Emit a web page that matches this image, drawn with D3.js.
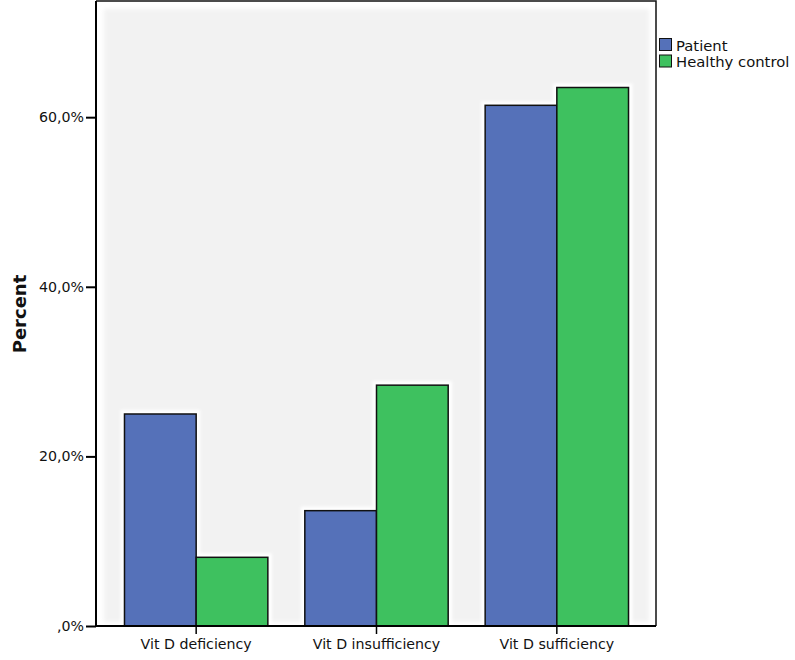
<!DOCTYPE html>
<html>
<head>
<meta charset="utf-8">
<script src="https://cdn.jsdelivr.net/npm/d3@7"></script>
<style>
  html, body { margin: 0; padding: 0; background: #ffffff; }
  svg { display: block; font-family: "DejaVu Sans", Verdana, sans-serif; }
</style>
</head>
<body>
<svg id="chart" width="795" height="660"></svg>
<script>
const categories = ["Vit D deficiency", "Vit D insufficiency", "Vit D sufficiency"];
const seriesNames = ["Patient", "Healthy control"];
const patientValues = [25.0, 13.6, 61.4];
const controlValues = [8.1, 28.4, 63.5];
const yTicks = [0, 20, 40, 60];
const yTickLabels = [",0%", "20,0%", "40,0%", "60,0%"];
const colors = ["#5571b9", "#3ec15f"];

const svg = d3.select("#chart");
const frame = { left: 96, right: 656, top: 1, bottom: 626 };

const y = d3.scaleLinear().domain([0, 73.7]).range([frame.bottom, frame.top]);
const x = d3.scaleBand().domain(categories).range([106, 647]).paddingInner(0.205).paddingOuter(0.1025);
const xs = d3.scaleBand().domain(seriesNames).range([0, x.bandwidth()]);

const defs = svg.append("defs");
const blur = defs.append("filter").attr("id", "glow").attr("x", "-20%").attr("y", "-20%").attr("width", "140%").attr("height", "140%");
blur.append("feGaussianBlur").attr("stdDeviation", 1.5);
const blur2 = defs.append("filter").attr("id", "soft");
blur2.append("feGaussianBlur").attr("stdDeviation", 2);

// plot background
svg.append("rect").attr("x", frame.left).attr("y", frame.top)
  .attr("width", frame.right - frame.left).attr("height", frame.bottom - frame.top)
  .attr("fill", "#ffffff");
svg.append("rect").attr("x", frame.left + 8).attr("y", frame.top + 8)
  .attr("width", frame.right - frame.left - 15).attr("height", frame.bottom - frame.top - 12)
  .attr("fill", "#f2f2f2").attr("filter", "url(#soft)");

const data = [];
categories.forEach((c, i) => {
  data.push({ cat: c, series: seriesNames[0], value: patientValues[i], color: colors[0] });
  data.push({ cat: c, series: seriesNames[1], value: controlValues[i], color: colors[1] });
});

// white halos
svg.append("g").selectAll("rect").data(data).join("rect")
  .attr("x", d => x(d.cat) + xs(d.series) - 4)
  .attr("y", d => y(d.value) - 4)
  .attr("width", xs.bandwidth() + 8)
  .attr("height", d => y(0) - y(d.value) + 4)
  .attr("fill", "#ffffff").attr("filter", "url(#glow)");

// bars
svg.append("g").selectAll("rect").data(data).join("rect")
  .attr("x", d => x(d.cat) + xs(d.series))
  .attr("y", d => y(d.value))
  .attr("width", xs.bandwidth())
  .attr("height", d => y(0) - y(d.value))
  .attr("fill", d => d.color)
  .attr("stroke", "#111111").attr("stroke-width", 1.5);

// frame top/right
svg.append("path")
  .attr("d", `M${frame.left},${frame.top}H${frame.right}V${frame.bottom}`)
  .attr("fill", "none").attr("stroke", "#111").attr("stroke-width", 1.5);

// y axis
const yAxis = d3.axisLeft(y).tickValues(yTicks).tickFormat((d, i) => yTickLabels[i]).tickSize(10).tickPadding(2);
const gy = svg.append("g").attr("transform", `translate(${frame.left},0)`).call(yAxis);
gy.select(".domain").attr("stroke", "#000").attr("stroke-width", 2).attr("d", `M0,${frame.top}V${frame.bottom}`);
gy.selectAll(".tick line").attr("stroke", "#000").attr("stroke-width", 2);
gy.selectAll(".tick text").attr("font-size", 14.2).attr("fill", "#111").attr("font-family", "DejaVu Sans");

// x axis
const xAxis = d3.axisBottom(x).tickSize(8).tickPadding(5);
const gx = svg.append("g").attr("transform", `translate(0,${frame.bottom})`).call(xAxis);
gx.select(".domain").attr("stroke", "#000").attr("stroke-width", 2).attr("d", `M${frame.left},0H${frame.right}`);
gx.selectAll(".tick line").attr("stroke", "#000").attr("stroke-width", 1.5);
gx.selectAll(".tick text").attr("font-size", 14.2).attr("fill", "#111").attr("font-family", "DejaVu Sans");

// y label
svg.append("text").attr("transform", "translate(26,314) rotate(-90)")
  .attr("text-anchor", "middle").attr("font-size", 18).attr("font-weight", "bold")
  .attr("fill", "#111").text("Percent");

// legend
const lg = svg.append("g").attr("transform", "translate(659,38)");
seriesNames.forEach((s, i) => {
  const g = lg.append("g").attr("transform", `translate(0,${i * 16.5})`);
  g.append("rect").attr("x", 0.5).attr("y", 0.5).attr("width", 12).attr("height", 12)
    .attr("fill", colors[i]).attr("stroke", "#111").attr("stroke-width", 1);
  g.append("text").attr("x", 17).attr("y", 12.5).attr("font-size", 14.8).attr("fill", "#111").text(s);
});
</script>
</body>
</html>
